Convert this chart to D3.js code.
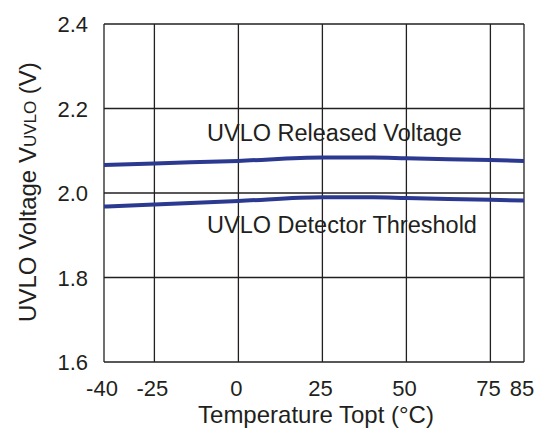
<!DOCTYPE html>
<html>
<head>
<meta charset="utf-8">
<script src="https://cdn.jsdelivr.net/npm/d3@7"></script>
<style>
body { margin: 0; background: #fff; }
text { font-family: "Liberation Sans", Arial, sans-serif; fill: #231f20; }
</style>
</head>
<body>
<svg width="539" height="435"></svg>
<script>
const temps = [-40, -25, 0, 25, 40, 50, 75, 85];
const released = [2.066, 2.070, 2.076, 2.084, 2.084, 2.082, 2.078, 2.076];
const detector = [1.968, 1.973, 1.981, 1.990, 1.990, 1.988, 1.984, 1.982];
const xTicks = [-40, -25, 0, 25, 50, 75, 85];
const yTicks = [1.6, 1.8, 2.0, 2.2, 2.4];

const plotLeft = 104, plotRight = 524, plotTop = 24, plotBottom = 362;

const svg = d3.select('svg');

const xScale = d3.scaleLinear().domain([-40, 85]).range([plotLeft, plotRight]);
const yScale = d3.scaleLinear().domain([1.6, 2.4]).range([plotBottom, plotTop]);

// grid
svg.append('g')
    .selectAll('line')
    .data(xTicks)
    .enter()
    .append('line')
    .attr('x1', d => xScale(d))
    .attr('x2', d => xScale(d))
    .attr('y1', plotTop)
    .attr('y2', plotBottom)
    .attr('stroke', '#231f20')
    .attr('stroke-width', 1.3);

svg.append('g')
    .selectAll('line')
    .data(yTicks)
    .enter()
    .append('line')
    .attr('x1', plotLeft)
    .attr('x2', plotRight)
    .attr('y1', d => yScale(d))
    .attr('y2', d => yScale(d))
    .attr('stroke', '#231f20')
    .attr('stroke-width', 1.3);

// tick labels
svg.append('g')
    .selectAll('text')
    .data(xTicks)
    .enter()
    .append('text')
    .attr('x', d => xScale(d) - 2)
    .attr('y', 396)
    .attr('text-anchor', 'middle')
    .attr('font-size', 22)
    .text(d => d);

svg.append('g')
    .selectAll('text')
    .data(yTicks)
    .enter()
    .append('text')
    .attr('x', 88)
    .attr('y', d => yScale(d) + 8)
    .attr('text-anchor', 'end')
    .attr('font-size', 22)
    .text(d => d.toFixed(1));

// series
const line = d3.line()
    .x((d, i) => xScale(temps[i]))
    .y(d => yScale(d))
    .curve(d3.curveMonotoneX);

[released, detector].forEach(s => {
    svg.append('path')
        .attr('d', line(s))
        .attr('fill', 'none')
        .attr('stroke', '#2b3990')
        .attr('stroke-width', 4);
});

svg.append('text')
    .attr('x', 207)
    .attr('y', 141)
    .attr('font-size', 23.5)
    .text('UVLO Released Voltage');

svg.append('text')
    .attr('x', 207)
    .attr('y', 233)
    .attr('font-size', 23.5)
    .text('UVLO Detector Threshold');

// axis titles
svg.append('text')
    .attr('x', 316)
    .attr('y', 423)
    .attr('text-anchor', 'middle')
    .attr('font-size', 24)
    .text('Temperature Topt (°C)');

const yt = svg.append('text')
    .attr('transform', 'translate(36, 192) rotate(-90)')
    .attr('text-anchor', 'middle')
    .attr('font-size', 24);
yt.append('tspan').text('UVLO Voltage V');
yt.append('tspan').attr('font-size', 17).text('UVLO');
yt.append('tspan').text(' (V)');
</script>
</body>
</html>
